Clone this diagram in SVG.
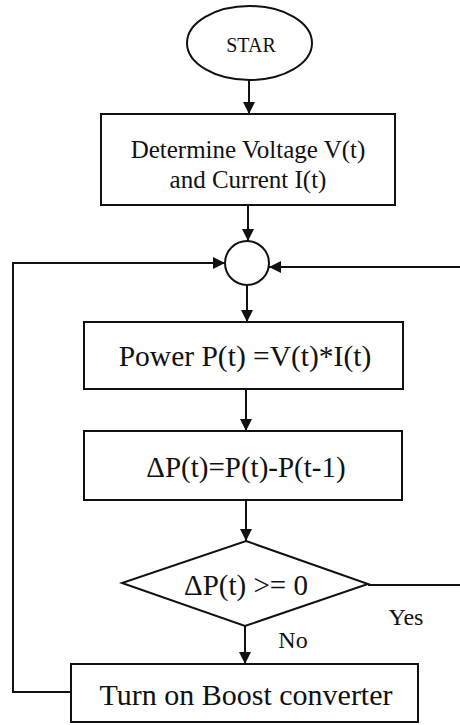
<svg xmlns="http://www.w3.org/2000/svg" width="460" height="725" viewBox="0 0 460 725">
<defs>
<marker id="ah" markerUnits="userSpaceOnUse" markerWidth="12" markerHeight="12" refX="12" refY="6" orient="auto">
<path d="M0,0 L12,6 L0,12 z" fill="#111"/>
</marker>
<style>
.s{fill:#fff;stroke:#111;stroke-width:2}
.c{fill:none;stroke:#111;stroke-width:2;marker-end:url(#ah)}
.l{fill:none;stroke:#111;stroke-width:2}
.t{font-family:"Liberation Serif","Times New Roman",serif;fill:#111;text-anchor:middle}
</style>
</defs>
<rect width="460" height="725" fill="#fff"/>
<g id="connectors">
<line class="c" x1="249" y1="80" x2="249" y2="114"/>
<line class="c" x1="248" y1="205" x2="248" y2="241"/>
<line class="c" x1="247" y1="285" x2="247" y2="322"/>
<line class="c" x1="246" y1="389" x2="246" y2="431"/>
<line class="c" x1="246" y1="500" x2="246" y2="541"/>
<line class="c" x1="245" y1="626" x2="245" y2="664"/>
<polyline class="c" points="71,692 13,692 13,263 225,263"/>
<line class="c" x1="460" y1="267" x2="269" y2="267"/>
<line class="l" x1="368" y1="585" x2="460" y2="585"/>
<text class="t" x="406" y="625" font-size="24">Yes</text>
<text class="t" x="293" y="648" font-size="24">No</text>
</g>
<g id="start">
<ellipse class="s" cx="249.5" cy="43" rx="62.5" ry="37"/>
<text class="t" x="251" y="52" font-size="20">STAR</text>
</g>
<g id="determine">
<rect class="s" x="101" y="114" width="294" height="91"/>
<text class="t" x="248" y="158" font-size="25">Determine Voltage V(t)</text>
<text class="t" x="248" y="188" font-size="25">and Current I(t)</text>
</g>
<g id="junction">
<circle class="s" cx="247" cy="263" r="22"/>
</g>
<g id="power">
<rect class="s" x="84" y="322" width="319" height="67"/>
<text class="t" x="245" y="366" font-size="29.5">Power P(t) =V(t)*I(t)</text>
</g>
<g id="deltap">
<rect class="s" x="84" y="431" width="318" height="69"/>
<text class="t" x="246" y="477" font-size="29">ΔP(t)=P(t)-P(t-1)</text>
</g>
<g id="decision">
<polygon class="s" points="246,541 368,584 245,626 122,583"/>
<text class="t" x="246" y="595" font-size="29">ΔP(t) &gt;= 0</text>
</g>
<g id="boost">
<rect class="s" x="71" y="664" width="347" height="58"/>
<text class="t" x="246" y="705" font-size="30">Turn on Boost converter</text>
</g>
</svg>
